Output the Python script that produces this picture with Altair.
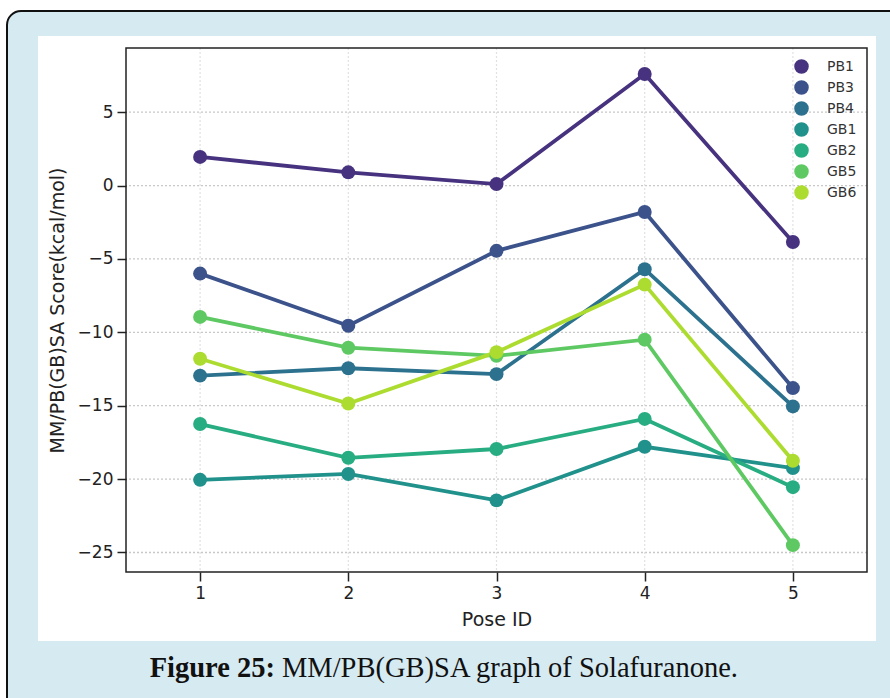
import altair as alt
import pandas as pd

# ---- data ----
poses = [1, 2, 3, 4, 5]
series_names = ["PB1", "PB3", "PB4", "GB1", "GB2", "GB5", "GB6"]
PB1 = [1.95, 0.9, 0.1, 7.6, -3.85]
PB3 = [-6.0, -9.55, -4.45, -1.8, -13.8]
PB4 = [-12.95, -12.45, -12.85, -5.7, -15.05]
GB1 = [-20.05, -19.65, -21.45, -17.8, -19.25]
GB2 = [-16.25, -18.55, -17.95, -15.9, -20.55]
GB5 = [-8.95, -11.05, -11.6, -10.5, -24.5]
GB6 = [-11.8, -14.85, -11.35, -6.75, -18.75]
colors = ["#46327e", "#3b528b", "#2c718e", "#21918c", "#27ad81", "#5ec962", "#addc30"]
y_ticks = [-25, -20, -15, -10, -5, 0, 5]
x_ticks = [1, 2, 3, 4, 5]

values = [PB1, PB3, PB4, GB1, GB2, GB5, GB6]
rows = []
for name, vals in zip(series_names, values):
    for p, v in zip(poses, vals):
        rows.append({"pose": p, "score": v, "series": name})
df = pd.DataFrame(rows)

W, H = 741, 524
PAD_L, PAD_T = 126, 48

xscale = alt.Scale(domain=[0.5, 5.5], nice=False, zero=False)
yscale = alt.Scale(domain=[-26.33, 9.37], nice=False, zero=False)
cscale = alt.Scale(domain=series_names, range=colors)

x_axis = alt.Axis(values=x_ticks, format="d", title="Pose ID", zindex=2)
y_axis = alt.Axis(values=y_ticks, format="d", title="MM/PB(GB)SA Score(kcal/mol)", zindex=2)
x_enc = alt.X("pose:Q", scale=xscale, axis=x_axis)
y_enc = alt.Y("score:Q", scale=yscale, axis=y_axis)

one = pd.DataFrame({"a": [0]})

outer = alt.Chart(one).mark_rect(
    fill="#d6eaf1", stroke="#111111", strokeWidth=2, cornerRadius=14
).encode(
    x=alt.value(7 - PAD_L), x2=alt.value(920 - PAD_L),
    y=alt.value(11 - PAD_T), y2=alt.value(730 - PAD_T),
)
panel = alt.Chart(one).mark_rect(fill="white").encode(
    x=alt.value(38 - PAD_L), x2=alt.value(876 - PAD_L),
    y=alt.value(36 - PAD_T), y2=alt.value(641 - PAD_T),
)

ygrid = alt.Chart(pd.DataFrame({"score": y_ticks})).mark_rule(
    color="#c8c8c8", strokeWidth=1.3, strokeDash=[2, 2]
).encode(y=y_enc)
xgrid = alt.Chart(pd.DataFrame({"pose": x_ticks})).mark_rule(
    color="#e2e2e2", strokeWidth=1.2, strokeDash=[2, 2]
).encode(x=x_enc)

base = alt.Chart(df).encode(
    x=x_enc,
    y=y_enc,
    color=alt.Color("series:N", scale=cscale, sort=series_names,
                    legend=alt.Legend(title=None, orient="none",
                                      legendX=668, legendY=11)),
    detail="series:N",
)
lines = base.mark_line(strokeWidth=3.8)
points = base.mark_point(filled=True, size=195, opacity=1, shape="circle")

frame = alt.Chart(one).mark_rect(
    fill=None, stroke="#222222", strokeWidth=1.5
).encode(x=alt.value(0), x2=alt.value(W), y=alt.value(0), y2=alt.value(H))

cap_bold = alt.Chart(one).mark_text(
    text="Figure 25:", font="Liberation Serif", fontSize=28.5, fontWeight="bold",
    align="right", baseline="alphabetic", color="#111111"
).encode(x=alt.value(275 - PAD_L), y=alt.value(677 - PAD_T))
cap_reg = alt.Chart(one).mark_text(
    text="MM/PB(GB)SA graph of Solafuranone.", font="Liberation Serif",
    fontSize=28.5, align="left", baseline="alphabetic", color="#111111"
).encode(x=alt.value(282 - PAD_L), y=alt.value(677 - PAD_T))

chart = alt.layer(
    outer, panel, ygrid, xgrid, lines, points, frame, cap_bold, cap_reg
).properties(
    width=W, height=H,
    autosize=alt.AutoSizeParams(type="none"),
    padding={"left": PAD_L, "top": PAD_T, "right": 890 - PAD_L - W, "bottom": 698 - PAD_T - H},
    background="white",
).configure_view(
    stroke=None
).configure_axis(
    grid=False, domain=False,
    tickColor="#222222", tickWidth=1.5, tickSize=9,
    labelFont="DejaVu Sans", labelFontSize=17, labelColor="#222222", labelPadding=4,
    titleFont="DejaVu Sans", titleFontSize=19, titleColor="#222222", titleFontWeight="normal",
).configure_axisY(
    titlePadding=10
).configure_axisX(
    titlePadding=9
).configure_legend(
    symbolSize=170, symbolType="circle", labelFont="DejaVu Sans", labelFontSize=14,
    labelColor="#333333", rowPadding=0, labelOffset=18,
)

chart.save("out.html", embed_options={"renderer": "svg", "actions": False})
